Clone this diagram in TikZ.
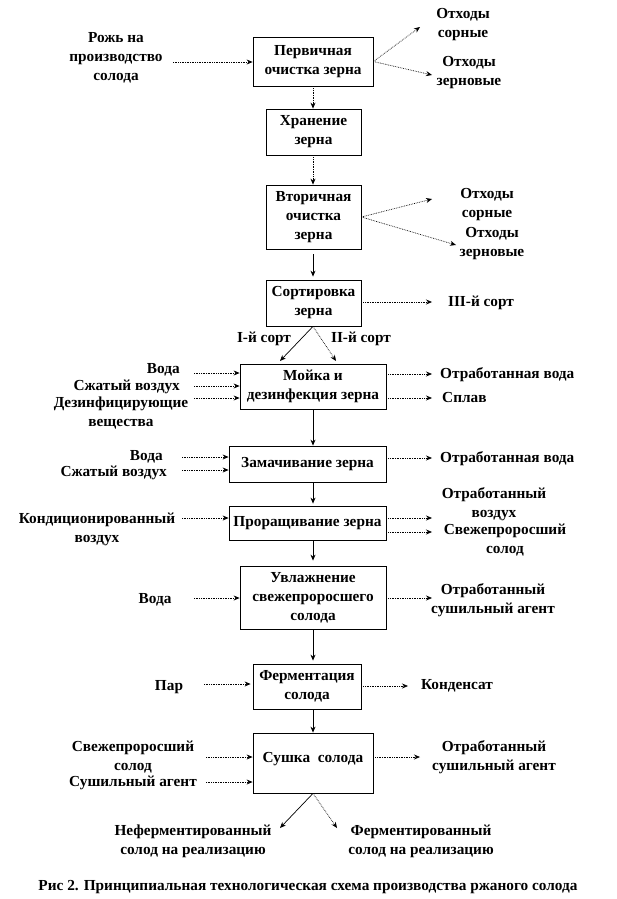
\documentclass[tikz,border=0pt]{standalone}
\usepackage{fontspec}
\setmainfont{Liberation Serif}
\usetikzlibrary{arrows.meta}
\begin{document}
\begin{tikzpicture}[x=1pt,y=-1pt,
 every node/.style={font=\fontsize{15.3}{19}\selectfont\bfseries, inner sep=0pt},
 box/.style={draw, line width=0.8pt, align=center},
 lbl/.style={align=center},
 arr/.style={-{Stealth[length=6pt,width=5pt]}, line width=0.7pt},
 darr/.style={arr, densely dotted}]
\useasboundingbox (0,0) rectangle (616,899);
% boxes
\node[box, minimum width=120pt, minimum height=49pt] (b1) at (313,61.5) {Первичная\\очистка зерна};
\node[box, minimum width=95pt, minimum height=46pt] (b2) at (313.5,132) {Хранение\\зерна};
\node[box, minimum width=95pt, minimum height=64pt] (b3) at (313.5,217) {Вторичная\\очистка\\зерна};
\node[box, minimum width=95pt, minimum height=46pt] (b4) at (313.5,303) {Сортировка\\зерна};
\node[box, minimum width=146pt, minimum height=45pt] (b5) at (313,386.5) {Мойка и\\дезинфекция зерна};
\node[box, minimum width=157pt, minimum height=36pt] (b6) at (307.5,464) {Замачивание зерна};
\node[box, minimum width=157pt, minimum height=34pt] (b7) at (307.5,523) {Проращивание зерна};
\node[box, minimum width=146pt, minimum height=63pt] (b8) at (313,597.5) {Увлажнение\\свежепроросшего\\солода};
\node[box, minimum width=108pt, minimum height=45pt] (b9) at (307,686.5) {Ферментация\\солода};
\node[box, minimum width=120pt, minimum height=60pt] (b10) at (313,763) {};
\node (b10t) at (313,759) {Сушка\ \ солода};
% main axis
\coordinate (ax) at (313,0);
\draw[darr] (ax |- b1.south) -- (ax |- b2.north);
\draw[darr] (ax |- b2.south) -- (ax |- b3.north);
\draw[arr, shorten <=5pt, shorten >=3pt] (ax |- b3.south) -- (ax |- b4.north);
\draw[arr] (ax |- b5.south) -- (ax |- b6.north);
\draw[arr, shorten >=2pt] (ax |- b6.south) -- (ax |- b7.north);
\draw[arr, shorten >=5pt] (ax |- b7.south) -- (ax |- b8.north);
\draw[arr, shorten >=3pt] (ax |- b8.south) -- (ax |- b9.north);
\draw[arr] (ax |- b9.south) -- (ax |- b10.north);
% labels
\node[lbl] (l0) at (116,58) {Рожь на\\производство\\солода};
\node[lbl] (o1) at (463,24.5) {Отходы\\сорные};
\node[lbl] (o2) at (469,72.5) {Отходы\\зерновые};
\node[lbl] (o3) at (487,204.5) {Отходы\\сорные};
\node[lbl] (o4) at (492,244) {Отходы\\зерновые};
\node[lbl] (s3) at (481,303) {III-й сорт};
\node[lbl] (s1) at (264,339) {I-й сорт};
\node[lbl] (s2) at (361,339) {II-й сорт};
\node[anchor=east] (w5a) at (180,370) {Вода};
\node[anchor=east] (w5b) at (180,387) {Сжатый воздух};
\node[lbl] (w5c) at (121,413) {Дезинфицирующие\\вещества};
\node[anchor=west] (r5a) at (440,375) {Отработанная вода};
\node[anchor=west] (r5b) at (442,398) {Сплав};
\node[anchor=east] (w6a) at (163,457) {Вода};
\node[anchor=east] (w6b) at (167,473) {Сжатый воздух};
\node[anchor=west] (r6a) at (440,459) {Отработанная вода};
\node[lbl] (w7a) at (97,529) {Кондиционированный\\воздух};
\node[lbl] (r7a) at (494,504) {Отработанный\\воздух};
\node[lbl] (r7b) at (505,540.5) {Свежепроросший\\солод};
\node[lbl] (w8a) at (155,600) {Вода};
\node[lbl] (r8a) at (493,600.5) {Отработанный\\сушильный агент};
\node[lbl] (w9a) at (169,687) {Пар};
\node[lbl] (r9a) at (457,686) {Конденсат};
\node[lbl] (w10a) at (133,757) {Свежепроросший\\солод};
\node[lbl] (w10b) at (133,783) {Сушильный агент};
\node[lbl] (r10a) at (494,757) {Отработанный\\сушильный агент};
\node[lbl] (f1) at (193,841.5) {Неферментированный\\солод на реализацию};
\node[lbl] (f2) at (421,841.5) {Ферментированный\\солод на реализацию};
\node[lbl] (cap) at (308,887) {Рис 2. Принципиальная технологическая схема производства ржаного солода};
% free ends
\coordinate (i1) at (173,62);
\coordinate (t1) at (420,27);
\coordinate (t2) at (432,75);
\coordinate (t3) at (432,199);
\coordinate (t4) at (456,245);
\coordinate (t5) at (432,302);
\coordinate (d1) at (280,361);
\coordinate (d2) at (336,361);
\coordinate (i5a) at (194,373);
\coordinate (i5b) at (194,386);
\coordinate (i5c) at (194,398);
\coordinate (e5a) at (432,374);
\coordinate (e5b) at (432,398);
\coordinate (i6a) at (182,457);
\coordinate (i6b) at (182,470);
\coordinate (e6a) at (432,458);
\coordinate (i7a) at (182,518);
\coordinate (e7a) at (432,518);
\coordinate (e7b) at (432,532);
\coordinate (i8a) at (194,598);
\coordinate (e8a) at (432,598);
\coordinate (i9a) at (204,684);
\coordinate (e9a) at (408,686);
\coordinate (i10a) at (206,757);
\coordinate (i10b) at (206,782);
\coordinate (e10a) at (420,757);
\coordinate (g1) at (280,828);
\coordinate (g2) at (337,828);
% connectors
\draw[darr] (i1) -- (i1 -| b1.west);
\draw[darr] (b1.east) -- (t1);
\draw[darr] (b1.east) -- (t2);
\draw[darr] (b3.east) -- (t3);
\draw[darr] (b3.east) -- (t4);
\draw[darr] (t5 -| b4.east) -- (t5);
\draw[arr] (ax |- b4.south) -- (d1);
\draw[darr] (ax |- b4.south) -- (d2);
\draw[darr] (i5a) -- (i5a -| b5.west);
\draw[darr] (i5b) -- (i5b -| b5.west);
\draw[darr] (i5c) -- (i5c -| b5.west);
\draw[darr] (e5a -| b5.east) -- (e5a);
\draw[darr] (e5b -| b5.east) -- (e5b);
\draw[darr] (i6a) -- (i6a -| b6.west);
\draw[darr] (i6b) -- (i6b -| b6.west);
\draw[darr] (e6a -| b6.east) -- (e6a);
\draw[darr] (i7a) -- (i7a -| b7.west);
\draw[darr] (e7a -| b7.east) -- (e7a);
\draw[darr] (e7b -| b7.east) -- (e7b);
\draw[darr] (i8a) -- (i8a -| b8.west);
\draw[darr] (e8a -| b8.east) -- (e8a);
\draw[darr, shorten >=2pt] (i9a) -- (i9a -| b9.west);
\draw[darr] (e9a -| b9.east) -- (e9a);
\draw[darr] (i10a) -- (i10a -| b10.west);
\draw[darr] (i10b) -- (i10b -| b10.west);
\draw[darr] (e10a -| b10.east) -- (e10a);
\draw[arr] (ax |- b10.south) -- (g1);
\draw[darr] (ax |- b10.south) -- (g2);
\end{tikzpicture}
\end{document}
